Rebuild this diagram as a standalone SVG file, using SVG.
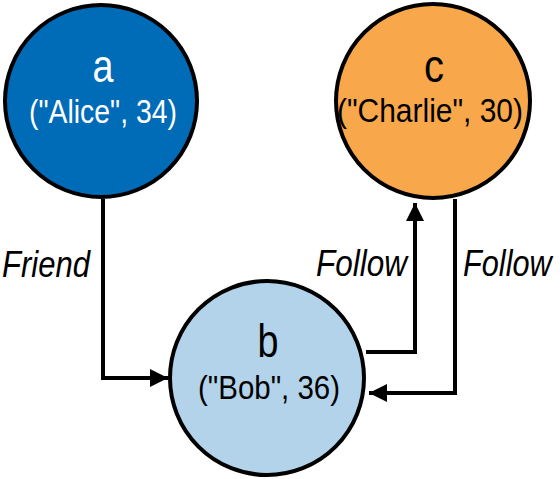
<svg xmlns="http://www.w3.org/2000/svg" width="560" height="479" viewBox="0 0 560 479">
<style>
.node{stroke:#000;stroke-width:4}
.t{font-family:"Liberation Sans",Arial,sans-serif;text-anchor:middle}
.big{font-size:46px}
.sub{font-size:34px}
.lbl{font-family:"Liberation Sans",Arial,sans-serif;font-size:37px;font-style:italic;fill:#000}
.edge{fill:none;stroke:#000;stroke-width:4}
</style>
<defs>
<marker id="arr" markerUnits="userSpaceOnUse" markerWidth="20" markerHeight="20" viewBox="0 0 20 20" refX="19" refY="10" orient="auto">
<path d="M1,1 L19,10 L1,19 Z" fill="#000"/>
</marker>
</defs>
<g id="connectors">
<path class="edge" d="M103,199 V378 H168" marker-end="url(#arr)"/>
<path class="edge" d="M366,352 H415 V203" marker-end="url(#arr)"/>
<path class="edge" d="M455,199 V393 H369" marker-end="url(#arr)"/>
<text class="lbl" x="2" y="277" textLength="88" lengthAdjust="spacingAndGlyphs">Friend</text>
<text class="lbl" x="316" y="276" textLength="91" lengthAdjust="spacingAndGlyphs">Follow</text>
<text class="lbl" transform="translate(463,276) scale(0.83,1)" x="0" y="0">Follow</text>
</g>
<g id="node-a">
<circle class="node" cx="101" cy="101" r="96" fill="#006bb6"/>
<text class="t big" x="103" y="82" fill="#fff" textLength="21" lengthAdjust="spacingAndGlyphs">a</text>
<text class="t sub" x="103" y="123" fill="#fff" textLength="148" lengthAdjust="spacingAndGlyphs">("Alice", 34)</text>
</g>
<g id="node-c">
<circle class="node" cx="433" cy="101" r="97" fill="#f8a84a"/>
<text class="t big" x="434" y="82" fill="#000" textLength="20" lengthAdjust="spacingAndGlyphs">c</text>
<text class="t sub" x="430" y="122" fill="#000" textLength="186" lengthAdjust="spacingAndGlyphs">("Charlie", 30)</text>
</g>
<g id="node-b">
<circle class="node" cx="267" cy="378" r="97" fill="#b3d3ea"/>
<text class="t big" x="268" y="357" fill="#000" textLength="21" lengthAdjust="spacingAndGlyphs">b</text>
<text class="t sub" x="269" y="399" fill="#000" textLength="142" lengthAdjust="spacingAndGlyphs">("Bob", 36)</text>
</g>
</svg>
